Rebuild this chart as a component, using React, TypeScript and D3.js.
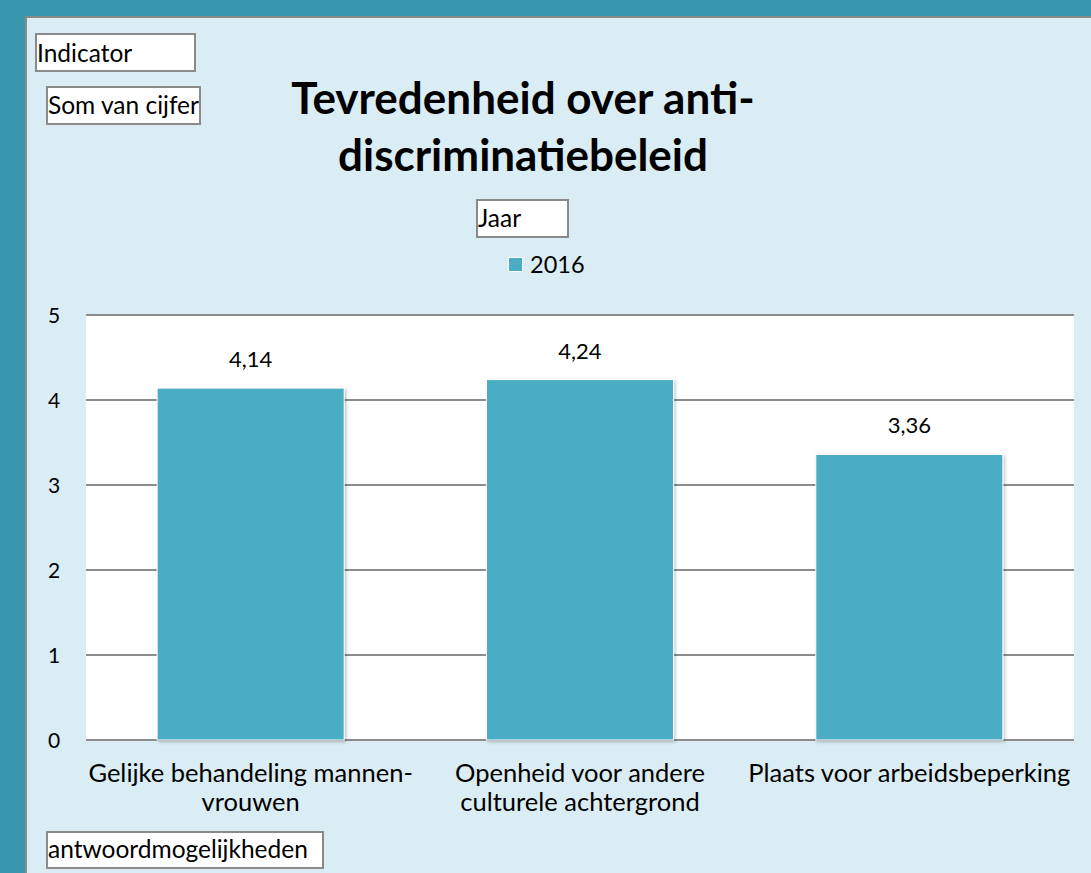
import React from "react";
import * as d3 from "d3";

const categories: string[][] = [
  ["Gelijke behandeling mannen-", "vrouwen"],
  ["Openheid voor andere", "culturele achtergrond"],
  ["Plaats voor arbeidsbeperking"],
];
const values2016: number[] = [4.14, 4.24, 3.36];
const yTicks: number[] = [0, 1, 2, 3, 4, 5];
const seriesName = "2016";
const titleLines = ["Tevredenheid over anti-", "discriminatiebeleid"];

const W = 1091;
const H = 873;
const FONT = "Lato, 'Open Sans', sans-serif";

export default function App() {
  const plot = { left: 86, right: 1074, top: 315, bottom: 740 };
  const x = d3
    .scaleBand<number>()
    .domain(categories.map((_, i) => i))
    .range([plot.left, plot.right])
    .paddingInner(0.432)
    .paddingOuter(0.216);
  const y = d3.scaleLinear().domain([0, 5]).range([plot.bottom, plot.top]);
  const fmt = (v: number) => v.toFixed(2).replace(".", ",");
  const barColor = "#4bacc6";

  const boxes = [
    { label: "Indicator", x: 36, y: 34, w: 159, h: 37, dy: 28 },
    { label: "Som van cijfer", x: 47, y: 87, w: 153, h: 37, dy: 27 },
    { label: "Jaar", x: 477, y: 200, w: 91, h: 37, dy: 27 },
    { label: "antwoordmogelijkheden", x: 47, y: 832, w: 276, h: 36, dy: 26 },
  ];

  return (
    <svg
      width={W}
      height={H}
      style={{ position: "absolute", left: 0, top: 0 }}
      fontFamily={FONT}
    >
      <defs>
        <filter id="sh" x="-10%" y="-10%" width="120%" height="120%">
          <feDropShadow dx="1.5" dy="1.5" stdDeviation="1.5" floodColor="#000" floodOpacity="0.25" />
        </filter>
      </defs>
      <rect x={0} y={0} width={W} height={H} fill="#3797ad" />
      <rect x={26} y={17} width={W + 10} height={H + 10} fill="#daedf4" stroke="#8a8a8a" strokeWidth={2} />
      <rect
        x={plot.left}
        y={plot.top}
        width={plot.right - plot.left}
        height={plot.bottom - plot.top}
        fill="#ffffff"
      />
      {yTicks.map((t) => (
        <g key={t}>
          <line
            x1={plot.left}
            x2={plot.right}
            y1={y(t)}
            y2={y(t)}
            stroke="#8c8c8c"
            strokeWidth={2}
          />
          <text x={54} y={y(t) + 8} fontSize={21} textAnchor="middle" fill="#000">
            {t}
          </text>
        </g>
      ))}
      {values2016.map((v, i) => (
        <g key={i}>
          <rect
            x={x(i)!}
            y={y(v)}
            width={x.bandwidth()}
            height={y(0) - y(v)}
            fill={barColor}
            stroke="#ffffff"
            strokeWidth={1}
            filter="url(#sh)"
          />
          <text
            x={x(i)! + x.bandwidth() / 2}
            y={y(v) - 21}
            fontSize={22}
            textAnchor="middle"
            fill="#000"
          >
            {fmt(v)}
          </text>
          {categories[i].map((line, j) => (
            <text
              key={j}
              x={x(i)! + x.bandwidth() / 2}
              y={782 + j * 29}
              fontSize={25.5}
              textAnchor="middle"
              fill="#000"
            >
              {line}
            </text>
          ))}
        </g>
      ))}
      {titleLines.map((l, i) => (
        <text
          key={i}
          x={523}
          y={114 + i * 57}
          fontSize={44}
          fontWeight="bold"
          textAnchor="middle"
          fill="#000"
        >
          {l}
        </text>
      ))}
      <rect x={508.5} y={257.5} width={14} height={14} fill={barColor} stroke="#fff" strokeWidth={1} />
      <text x={530} y={273} fontSize={23.5} fill="#000">
        {seriesName}
      </text>
      {boxes.map((b) => (
        <g key={b.label}>
          <rect x={b.x} y={b.y} width={b.w} height={b.h} fill="#fff" stroke="#8a8a8a" strokeWidth={2} />
          <text x={b.x + 1} y={b.y + b.dy} fontSize={24.5} fill="#000">
            {b.label}
          </text>
        </g>
      ))}
    </svg>
  );
}
